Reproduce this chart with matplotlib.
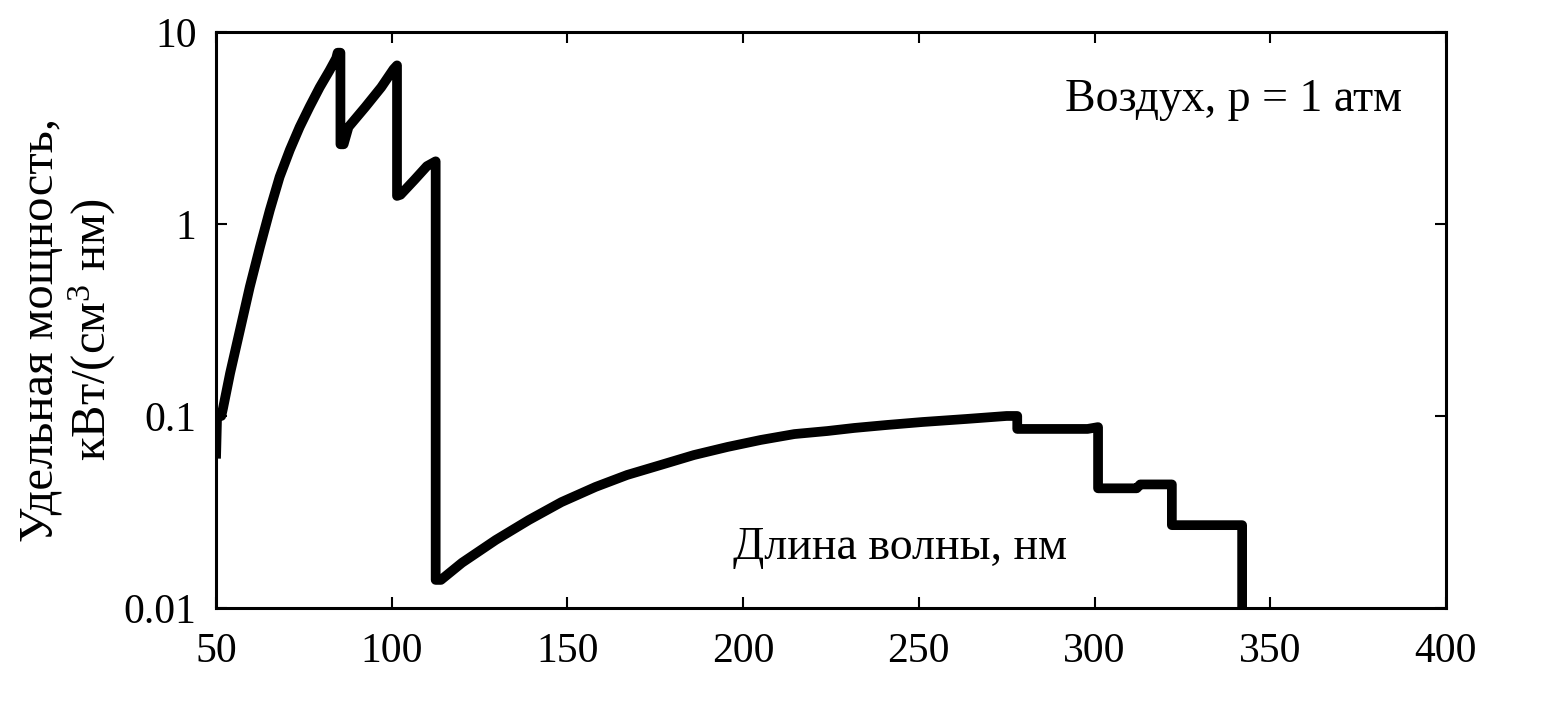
import numpy as np
import matplotlib.pyplot as plt
from matplotlib.ticker import FixedLocator, FixedFormatter

plt.rcParams['font.family'] = ['Liberation Serif', 'DejaVu Serif']
plt.rcParams['mathtext.fontset'] = 'custom'
plt.rcParams['mathtext.rm'] = 'Liberation Serif'
plt.rcParams['mathtext.it'] = 'Liberation Serif:italic'

# длина волны, нм / удельная мощность, кВт/(см3 нм)
wl = [50, 50.3, 51.5, 52, 54, 56.8, 59.6, 62.5, 65.3, 68.1, 71, 73.8, 76.6, 79.5,
      82.3, 84.2, 84.6, 85.4,
      85.4, 86.3, 87.7, 92.5, 97, 100.5, 101.5,
      101.5, 102.5, 106.5, 110, 112.5,
      112.5, 114, 120, 129.6, 139, 148.3, 158, 167, 176.6, 186, 195.6, 205, 214.6,
      224, 231.6, 241, 251, 263.6, 275, 278,
      278, 298, 301,
      301, 312, 313, 322,
      322, 342, 342]
power = [0.06, 0.1, 0.1, 0.11, 0.167, 0.28, 0.47, 0.76, 1.18, 1.76, 2.43, 3.2, 4.07, 5.15,
         6.3, 7.3, 7.8, 7.8,
         2.6, 2.6, 3.2, 4.07, 5.15, 6.4, 6.7,
         1.4, 1.42, 1.7, 2.0, 2.12,
         0.014, 0.014, 0.0172, 0.0226, 0.0287, 0.0356, 0.0427, 0.0493, 0.0556, 0.0626, 0.069, 0.075, 0.0805,
         0.0835, 0.0866, 0.0898, 0.093, 0.0965, 0.1, 0.1,
         0.0856, 0.0856, 0.0875,
         0.042, 0.042, 0.044, 0.044,
         0.027, 0.027, 0.008]

x_ticks = [50, 100, 150, 200, 250, 300, 350, 400]
y_ticks = [0.01, 0.1, 1, 10]
y_labels = ['0.01', '0.1', '1', '10']

fig = plt.figure(figsize=(15.61, 7.09), dpi=100)
ax = fig.add_axes([0.1384, 0.1425, 0.7879, 0.8124])

ax.plot(wl, power, color='black', lw=7, solid_joinstyle='round', solid_capstyle='butt')

ax.set_yscale('log')
ax.set_xlim(50, 400)
ax.set_ylim(0.01, 10)
ax.xaxis.set_major_locator(FixedLocator(x_ticks))
ax.yaxis.set_major_locator(FixedLocator(y_ticks))
ax.yaxis.set_major_formatter(FixedFormatter(y_labels))
ax.yaxis.set_minor_locator(FixedLocator([]))

ax.tick_params(axis='both', which='major', direction='in', length=8, width=1.5,
               labelsize=30, top=True, right=True)
ax.tick_params(axis='x', pad=18)
ax.tick_params(axis='y', pad=14)
for spine in ax.spines.values():
    spine.set_linewidth(2.2)

ax.text(0.827, 0.882, 'Воздух, р = 1 атм', transform=ax.transAxes, fontsize=33,
        ha='center', va='center')
ax.text(0.556, 0.104, 'Длина волны, нм', transform=ax.transAxes, fontsize=33,
        ha='center', va='center')

fig.text(0.044, 0.535, 'Удельная мощность,\nкВт/(см$^3$ нм)', rotation=90,
         fontsize=35, ha='center', va='center', linespacing=1.1)

fig.savefig('out.png', dpi=100)
